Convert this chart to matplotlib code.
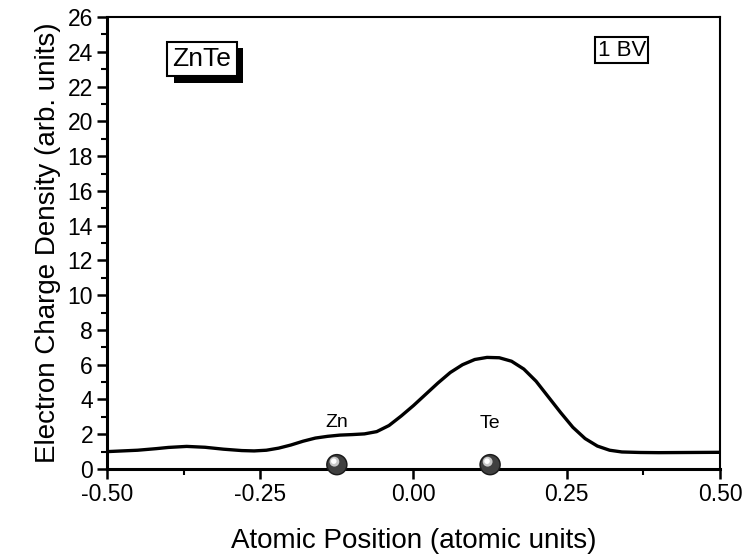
import matplotlib
matplotlib.use("Agg")
import matplotlib.pyplot as plt
import matplotlib.patheffects as pe
import numpy as np
from matplotlib.ticker import MultipleLocator

# Valence band charge density along the bond direction
POSITION = [-0.50, -0.45, -0.42, -0.40, -0.37, -0.34, -0.31, -0.28, -0.26,
            -0.24, -0.22, -0.20, -0.18, -0.16, -0.14, -0.12, -0.10, -0.08,
            -0.06, -0.04, -0.02, 0.00, 0.02, 0.04, 0.06, 0.08, 0.10, 0.12,
            0.14, 0.16, 0.18, 0.20, 0.22, 0.24, 0.26, 0.28, 0.30, 0.32,
            0.34, 0.37, 0.40, 0.45, 0.50]
DENSITY = [1.00, 1.08, 1.17, 1.24, 1.30, 1.25, 1.14, 1.06, 1.04,
           1.08, 1.20, 1.38, 1.60, 1.78, 1.88, 1.95, 1.98, 2.02,
           2.15, 2.50, 3.05, 3.65, 4.30, 4.95, 5.55, 6.00, 6.30, 6.42,
           6.40, 6.20, 5.75, 5.05, 4.15, 3.25, 2.40, 1.75, 1.32, 1.08,
           0.98, 0.95, 0.94, 0.95, 0.96]

ATOM_NAMES = ["Zn", "Te"]
ATOM_POSITIONS = [-0.125, 0.125]
ATOM_LABEL_Y = [2.65, 2.6]

plt.rcParams.update({
    "font.family": "sans-serif",
    "font.sans-serif": ["Liberation Sans", "DejaVu Sans"],
})

fig = plt.figure(figsize=(7.45, 5.6), dpi=100)
ax = fig.add_axes([0.1436, 0.1625, 0.8228, 0.807])

ax.plot(POSITION, DENSITY, color="black", linewidth=2.4, solid_capstyle="round")

# atoms sitting on the axis
ax.scatter(ATOM_POSITIONS, [0.25] * 2, s=240, color="#1a1a1a", zorder=3,
           clip_on=False, edgecolors="none")
ax.scatter(ATOM_POSITIONS, [0.25] * 2, s=180, color="#404040", zorder=3,
           clip_on=False, edgecolors="none")
ax.scatter([p - 0.004 for p in ATOM_POSITIONS], [0.42] * 2, s=50,
           color="#c8c8c8", zorder=3, clip_on=False, edgecolors="none")
ax.scatter([p - 0.005 for p in ATOM_POSITIONS], [0.45] * 2, s=16,
           color="white", zorder=3, clip_on=False, edgecolors="none")

for name, xpos, ypos in zip(ATOM_NAMES, ATOM_POSITIONS, ATOM_LABEL_Y):
    ax.text(xpos, ypos, name, ha="center", va="center", fontsize=14)

# compound label with drop shadow
label = ax.text(0.155, 0.907, "ZnTe", transform=ax.transAxes, fontsize=19,
                ha="center", va="center",
                bbox=dict(boxstyle="square,pad=0.2", facecolor="white",
                          edgecolor="black", linewidth=1.5))
label.get_bbox_patch().set_path_effects([
    pe.SimplePatchShadow(offset=(4.5, -4.5), shadow_rgbFace="black", alpha=1.0),
    pe.Normal(),
])

ax.text(0.84, 0.927, "1 BV", transform=ax.transAxes, fontsize=16,
        ha="center", va="center",
        bbox=dict(boxstyle="square,pad=0.1", facecolor="white",
                  edgecolor="black", linewidth=1.5))

ax.set_xlim(-0.5, 0.5)
ax.set_ylim(0, 26)
ax.xaxis.set_major_locator(MultipleLocator(0.25))
ax.xaxis.set_minor_locator(MultipleLocator(0.125))
ax.yaxis.set_major_locator(MultipleLocator(2))
ax.yaxis.set_minor_locator(MultipleLocator(1))
ax.set_xticklabels([f"{v:.2f}" for v in ax.get_xticks()])

ax.tick_params(which="major", direction="out", length=7, width=1.8,
               labelsize=16.5, top=False, right=False, pad=3)
ax.tick_params(which="minor", direction="out", length=4, width=1.5,
               top=False, right=False)

for side in ["left", "bottom"]:
    ax.spines[side].set_linewidth(2.2)
for side in ["top", "right"]:
    ax.spines[side].set_linewidth(1.5)

ax.set_xlabel("Atomic Position (atomic units)", fontsize=20, labelpad=16)
ax.set_ylabel("Electron Charge Density (arb. units)", fontsize=20, labelpad=5)

fig.savefig("out.png", dpi=100)
